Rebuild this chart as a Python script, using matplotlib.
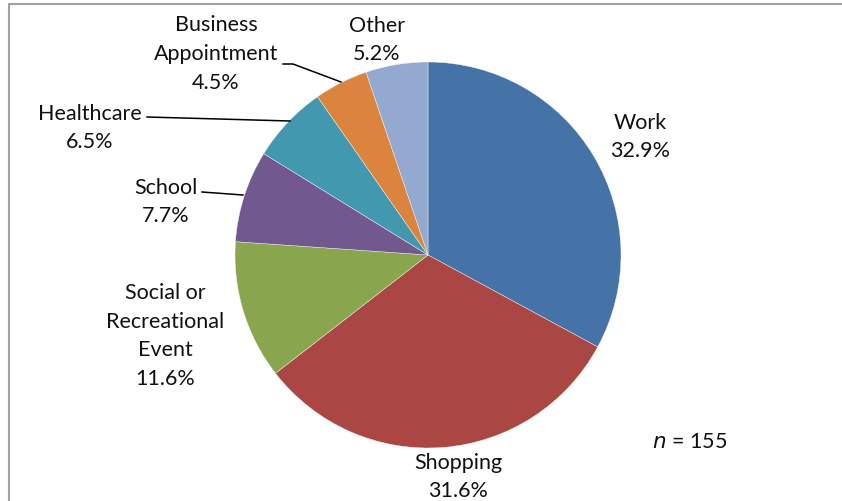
import matplotlib.pyplot as plt
from matplotlib.lines import Line2D

plt.rcParams['font.family'] = ['Lato', 'DejaVu Sans']

categories = ['Work', 'Shopping', 'Social or\nRecreational\nEvent', 'School',
              'Healthcare', 'Business\nAppointment', 'Other']
shares = [32.9, 31.6, 11.6, 7.7, 6.5, 4.5, 5.2]
colors = ['#4572A7', '#AA4643', '#89A54E', '#71588F', '#4198AF', '#DB843D', '#93A9CF']
n_total = 155

W, H = 842, 502
fig = plt.figure(figsize=(W / 100, H / 100), dpi=100)
ax = fig.add_axes([0, 0, 1, 1])


def py(y):
    # pixel row (from top) to data y
    return H - y


ax.pie(shares, colors=colors, startangle=90, counterclock=False,
       center=(428, py(256)), radius=193, frame=True,
       wedgeprops=dict(edgecolor='#f4f4f4', linewidth=0.3))
ax.set_xlim(0, W)
ax.set_ylim(0, H)
ax.set_aspect('equal')
ax.axis('off')

# label anchors (centre of text block)
label_pos = [(640, 137), (458, 477), (165, 336), (166, 202),
             (90, 128), (216, 54), (377, 40)]
for name, val, (x, y) in zip(categories, shares, label_pos):
    ax.text(x, py(y), f'{name}\n{val}%', ha='center', va='center',
            fontsize=15.5, linespacing=1.55, color='#111111')

# leader lines
leaders = [
    [(202, 193), (243, 196)],
    [(147, 118), (290, 122)],
    [(283, 65), (293, 65), (341, 83)],
]
for pts in leaders:
    xs = [p[0] for p in pts]
    ys = [py(p[1]) for p in pts]
    ax.add_line(Line2D(xs, ys, color='black', lw=1.1))

ax.text(690, py(442), r'$n$ = ' + str(n_total), ha='center', va='center',
        fontsize=15.5, color='#111111')

# chart frame
ax.add_line(Line2D([9, 9, W], [0, py(5), py(5)], color='#a0a0a0', lw=1.5))

fig.savefig('out.png', dpi=100)
